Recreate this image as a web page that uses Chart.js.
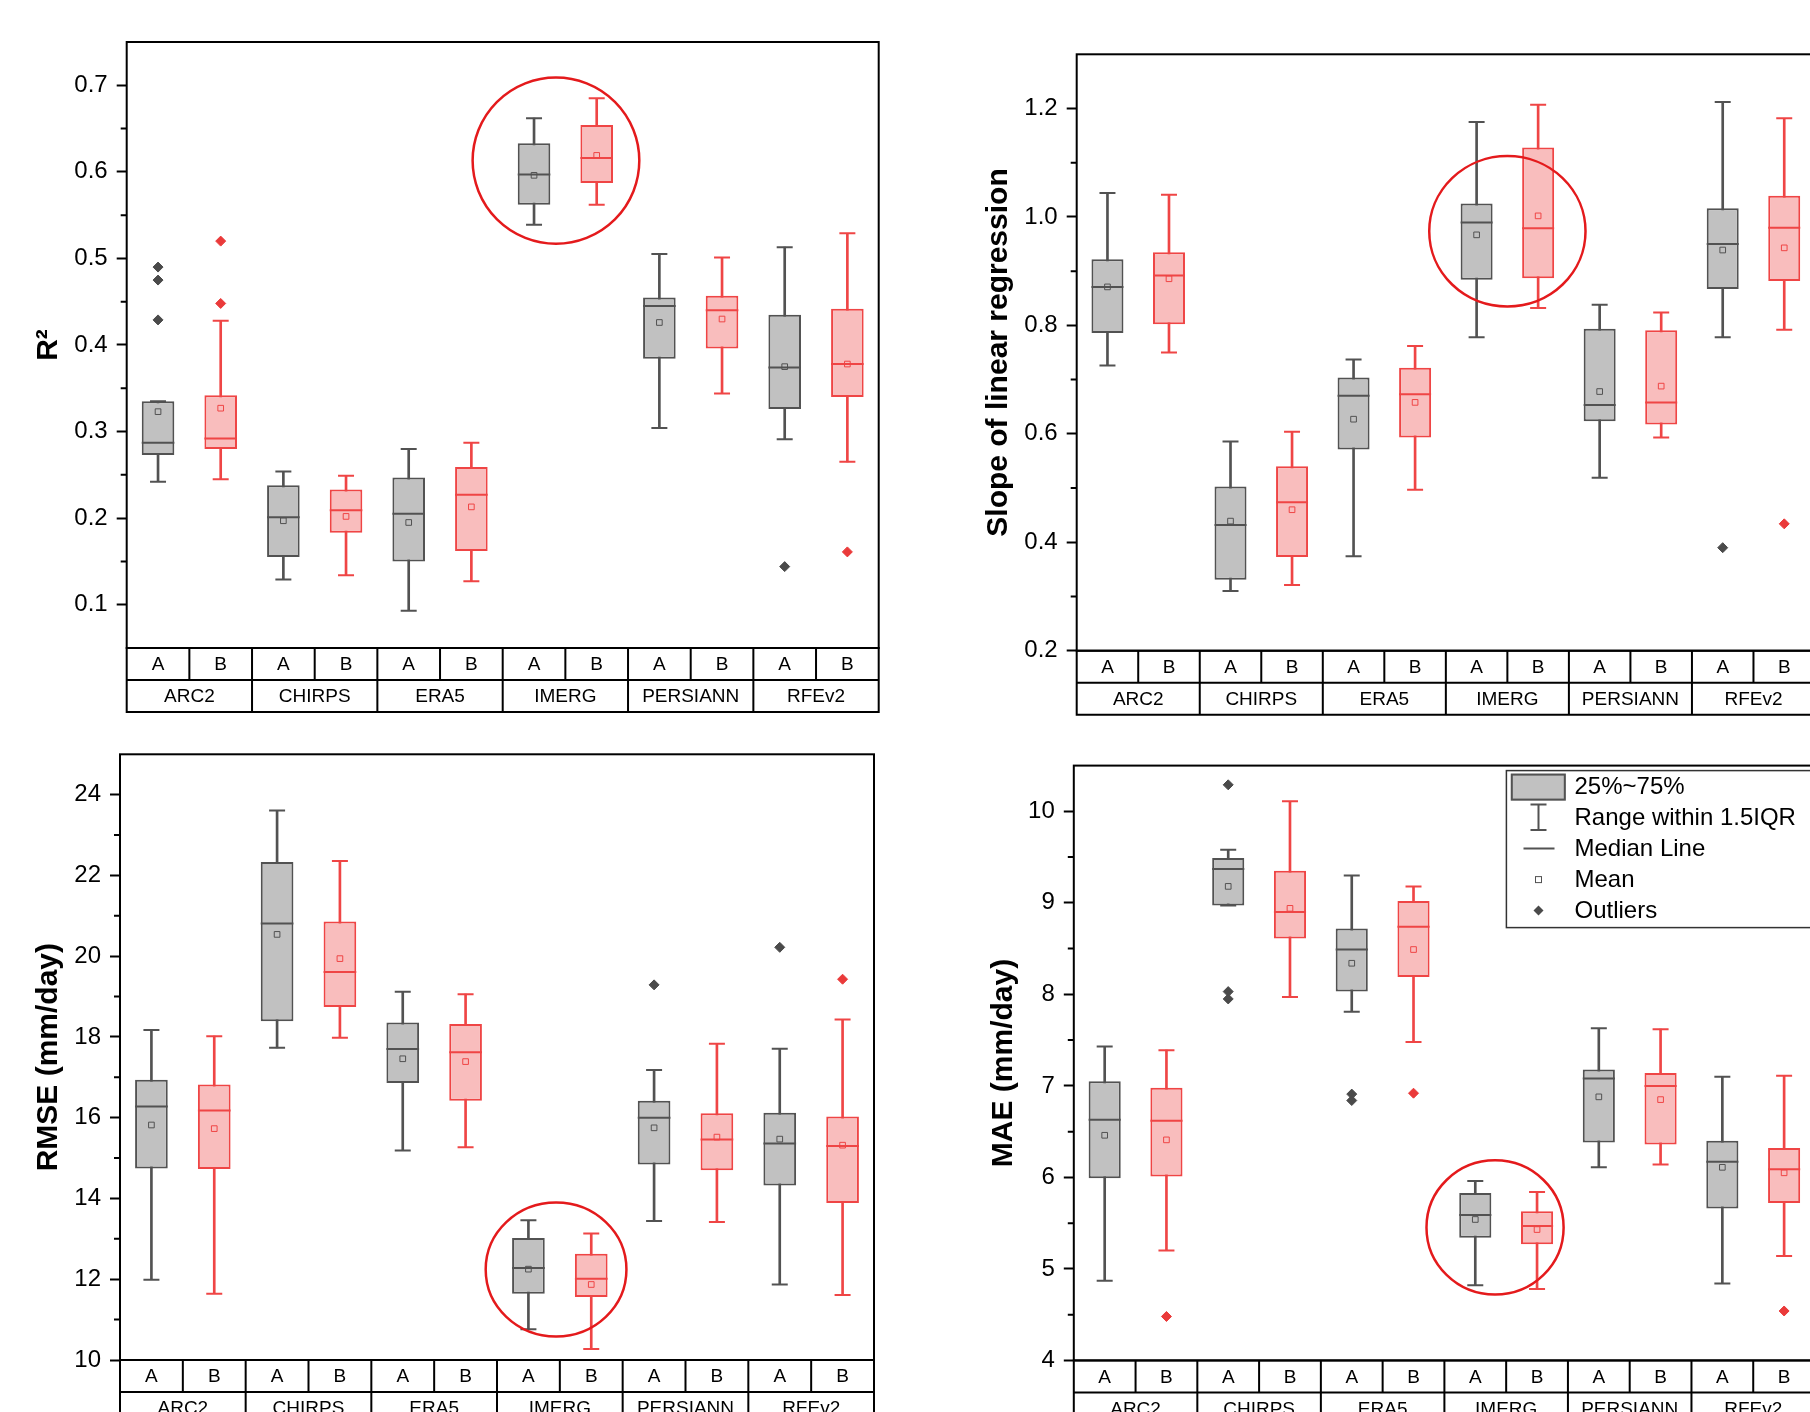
<!DOCTYPE html>
<html>
<head>
<meta charset="utf-8">
<script src="https://cdn.jsdelivr.net/npm/chart.js@4.4.0/dist/chart.umd.min.js"></script>
<style>
  html, body { margin: 0; padding: 0; background: #fff; width: 1810px; height: 1412px; overflow: hidden; position: relative; }
  canvas { position: absolute; }
</style>
</head>
<body>
<canvas id="c1" width="900" height="720" style="left:0;top:0;width:900px;height:720px"></canvas>
<canvas id="c2" width="925" height="720" style="left:900px;top:0;width:925px;height:720px"></canvas>
<canvas id="c3" width="900" height="692" style="left:0;top:720px;width:900px;height:692px"></canvas>
<canvas id="c4" width="925" height="692" style="left:900px;top:720px;width:925px;height:692px"></canvas>
<script>
// 分组和子类
const groups = ['ARC2', 'CHIRPS', 'ERA5', 'IMERG', 'PERSIANN', 'RFEv2'];
const subs = ['A', 'B'];

// R² : [下须, Q1, 中位数, Q3, 上须]
const r2BoxA = [[0.242, 0.273, 0.287, 0.335, 0.335], [0.129, 0.155, 0.201, 0.238, 0.254], [0.093, 0.150, 0.205, 0.247, 0.280],
                [0.539, 0.562, 0.597, 0.633, 0.662], [0.304, 0.384, 0.445, 0.455, 0.505], [0.291, 0.326, 0.374, 0.435, 0.513]];
const r2BoxB = [[0.245, 0.280, 0.292, 0.342, 0.428], [0.134, 0.183, 0.209, 0.233, 0.249], [0.127, 0.162, 0.227, 0.259, 0.287],
                [0.562, 0.587, 0.616, 0.654, 0.685], [0.344, 0.396, 0.440, 0.457, 0.501], [0.265, 0.340, 0.378, 0.442, 0.529]];
const r2MeanA = [0.323, 0.197, 0.195, 0.596, 0.426, 0.375];
const r2MeanB = [0.327, 0.202, 0.213, 0.619, 0.430, 0.378];
const r2OutA = [[0.490, 0.475, 0.429], [], [], [], [], [0.144]];
const r2OutB = [[0.520, 0.448], [], [], [], [], [0.161]];
const r2Ticks = [0.1, 0.2, 0.3, 0.4, 0.5, 0.6, 0.7];

// 线性回归斜率
const slopeBoxA = [[0.726, 0.786, 0.871, 0.922, 1.044], [0.310, 0.331, 0.432, 0.503, 0.586], [0.374, 0.571, 0.670, 0.704, 0.737],
                   [0.778, 0.884, 0.990, 1.025, 1.175], [0.519, 0.623, 0.653, 0.794, 0.838], [0.778, 0.867, 0.950, 1.016, 1.212]];
const slopeBoxB = [[0.750, 0.802, 0.892, 0.935, 1.041], [0.321, 0.373, 0.474, 0.540, 0.604], [0.497, 0.593, 0.673, 0.722, 0.762],
                   [0.832, 0.887, 0.979, 1.128, 1.207], [0.593, 0.617, 0.658, 0.791, 0.824], [0.792, 0.882, 0.980, 1.039, 1.182]];
const slopeMeanA = [0.871, 0.439, 0.627, 0.967, 0.678, 0.939];
const slopeMeanB = [0.886, 0.460, 0.658, 1.002, 0.688, 0.943];
const slopeOutA = [[], [], [], [], [], [0.390]];
const slopeOutB = [[], [], [], [], [], [0.434]];
const slopeTicks = [0.2, 0.4, 0.6, 0.8, 1.0, 1.2];

// RMSE
const rmseBoxA = [[11.99, 14.74, 16.28, 16.94, 18.17], [17.73, 18.39, 20.81, 22.33, 23.61], [15.19, 16.86, 17.70, 18.36, 19.12],
                  [10.76, 11.64, 12.28, 13.02, 13.46], [13.44, 14.84, 16.00, 16.42, 17.18], [11.87, 14.32, 15.36, 16.12, 17.71]];
const rmseBoxB = [[11.64, 14.73, 16.18, 16.82, 18.02], [17.98, 18.74, 19.61, 20.86, 22.36], [15.27, 16.42, 17.62, 18.32, 19.06],
                  [10.27, 11.56, 12.01, 12.63, 13.13], [13.42, 14.70, 15.46, 16.11, 17.83], [11.61, 13.89, 15.30, 16.03, 18.43]];
const rmseMeanA = [15.82, 20.54, 17.46, 12.25, 15.75, 15.47];
const rmseMeanB = [15.73, 19.94, 17.39, 11.87, 15.52, 15.32];
const rmseOutA = [[], [], [], [], [19.29], [20.22]];
const rmseOutB = [[], [], [], [], [], [19.43]];
const rmseTicks = [10, 12, 14, 16, 18, 20, 22, 24];

// MAE
const maeBoxA = [[4.87, 5.99, 6.63, 7.05, 7.43], [8.97, 8.97, 9.37, 9.49, 9.58], [7.81, 8.03, 8.49, 8.72, 9.30],
                 [4.82, 5.34, 5.59, 5.83, 5.96], [6.11, 6.38, 7.08, 7.18, 7.63], [4.84, 5.66, 6.17, 6.40, 7.10]];
const maeBoxB = [[5.20, 6.01, 6.62, 6.98, 7.39], [7.97, 8.61, 8.90, 9.35, 10.11], [7.48, 8.19, 8.74, 9.02, 9.18],
                 [4.78, 5.27, 5.47, 5.63, 5.84], [6.14, 6.36, 7.00, 7.14, 7.62], [5.14, 5.72, 6.09, 6.32, 7.11]];
const maeMeanA = [6.46, 9.18, 8.34, 5.54, 6.88, 6.11];
const maeMeanB = [6.41, 8.94, 8.49, 5.43, 6.85, 6.05];
const maeOutA = [[], [10.29, 8.03, 7.95], [6.91, 6.84], [], [], []];
const maeOutB = [[4.48], [], [6.92], [], [], [4.54]];
const maeTicks = [4, 5, 6, 7, 8, 9, 10];

const FONT = "'Liberation Sans', Arial, sans-serif";
const GRAY = { fill: '#c1c1c1', line: '#525252', dot: '#4a4a4a' };
const RED = { fill: '#f9bdbd', line: '#ef4545', dot: '#ea3a3a' };
const BOX_RATIO = 0.52;

// 箱体半宽（像素），与柱宽一致
function halfBox(chart) {
    const x = chart.scales.x;
    if (!x) return 16;
    return Math.abs(x.getPixelForValue(1) - x.getPixelForValue(0)) * BOX_RATIO / 2;
}

// 生成一组箱线图的数据集
function buildDatasets(boxA, boxB, meanA, meanB, outA, outB) {
    const series = [
        { box: boxA, mean: meanA, out: outA, off: 0, c: GRAY },
        { box: boxB, mean: meanB, out: outB, off: 1, c: RED }
    ];
    const ds = [];
    series.forEach(s => {
        const xs = groups.map((g, i) => i * 2 + s.off);
        // 须线
        ds.push({
            type: 'bar', order: 4, grouped: false, barThickness: 2,
            data: s.box.map((b, i) => ({ x: xs[i], y: [b[0], b[4]] })),
            backgroundColor: s.c.line, borderWidth: 0
        });
        // 须端
        ds.push({
            type: 'scatter', order: 3,
            data: s.box.flatMap((b, i) => [{ x: xs[i], y: b[0] }, { x: xs[i], y: b[4] }]),
            pointStyle: 'line', pointRadius: 8, pointBorderColor: s.c.line, pointBorderWidth: 2
        });
        // 箱体 25%~75%
        ds.push({
            type: 'bar', order: 2, grouped: false,
            categoryPercentage: 1, barPercentage: BOX_RATIO,
            data: s.box.map((b, i) => ({ x: xs[i], y: [b[1], b[3]] })),
            backgroundColor: s.c.fill, borderColor: s.c.line, borderWidth: 2, borderSkipped: false
        });
        // 中位线
        ds.push({
            type: 'scatter', order: 1,
            data: s.box.map((b, i) => ({ x: xs[i], y: b[2] })),
            pointStyle: 'line', pointRadius: ctx => halfBox(ctx.chart),
            pointBorderColor: s.c.line, pointBorderWidth: 2
        });
        // 均值
        ds.push({
            type: 'scatter', order: 0,
            data: s.mean.map((m, i) => ({ x: xs[i], y: m })),
            pointStyle: 'rect', pointRadius: 4, pointBorderWidth: 1,
            pointBorderColor: s.c.line, pointBackgroundColor: 'rgba(0,0,0,0)'
        });
        // 异常值
        ds.push({
            type: 'scatter', order: 0,
            data: s.out.flatMap((arr, i) => arr.map(v => ({ x: xs[i], y: v }))),
            pointStyle: 'rectRot', pointRadius: 5, pointBorderWidth: 1,
            pointBorderColor: s.c.dot, pointBackgroundColor: s.c.dot
        });
    });
    return ds;
}

// 边框、次刻度、分类表格、圆圈和图例
const boxExtras = {
    id: 'boxExtras',
    afterDatasetsDraw(chart, args, opts) {
        const c = opts.circle;
        if (!c) return;
        const ctx = chart.ctx, xs = chart.scales.x, ys = chart.scales.y;
        const cx = xs.getPixelForValue(c.group * 2 + 0.5 + c.shift);
        const cy = ys.getPixelForValue(c.y);
        const ry = Math.abs(ys.getPixelForValue(c.y + c.dy) - cy);
        const rx = Math.abs(xs.getPixelForValue(c.dx) - xs.getPixelForValue(0));
        ctx.save();
        ctx.strokeStyle = '#e41a1c';
        ctx.lineWidth = 2.5;
        ctx.beginPath();
        ctx.ellipse(cx, cy, rx, ry, 0, 0, Math.PI * 2);
        ctx.stroke();
        ctx.restore();
    },
    afterDraw(chart, args, opts) {
        const ctx = chart.ctx, xs = chart.scales.x, ys = chart.scales.y;
        const { left, top, right, bottom } = chart.chartArea;
        const rowH = 32;
        ctx.save();
        ctx.strokeStyle = '#000';
        ctx.lineWidth = 2;
        ctx.strokeRect(left, top, right - left, bottom - top);

        // 次刻度
        ctx.beginPath();
        const m = opts.minor;
        for (let k = Math.ceil(ys.min / m); k * m <= ys.max + 1e-9; k++) {
            const v = k * m;
            if (k % 2 === 0 || v <= ys.min + 1e-9 || v >= ys.max - 1e-9) continue;
            const y = ys.getPixelForValue(v);
            ctx.moveTo(left - 6, y);
            ctx.lineTo(left, y);
        }
        ctx.stroke();

        // 分类表格
        ctx.beginPath();
        for (let r = 0; r <= 2; r++) {
            ctx.moveTo(left - 1, bottom + r * rowH);
            ctx.lineTo(right + 1, bottom + r * rowH);
        }
        for (let i = 0; i <= groups.length * 2; i++) {
            const x = xs.getPixelForValue(i - 0.5);
            ctx.moveTo(x, bottom);
            ctx.lineTo(x, bottom + rowH);
            if (i % 2 === 0) {
                ctx.moveTo(x, bottom + rowH);
                ctx.lineTo(x, bottom + 2 * rowH);
            }
        }
        ctx.stroke();
        ctx.fillStyle = '#000';
        ctx.font = '19px ' + FONT;
        ctx.textAlign = 'center';
        ctx.textBaseline = 'middle';
        for (let i = 0; i < groups.length * 2; i++) {
            ctx.fillText(subs[i % 2], xs.getPixelForValue(i), bottom + rowH / 2 + 1);
        }
        groups.forEach((g, i) => {
            ctx.fillText(g, xs.getPixelForValue(i * 2 + 0.5), bottom + rowH * 1.5 + 1);
        });

        // 图例
        if (opts.legend) {
            const L = left, T = top;
            ctx.lineWidth = 1.5;
            ctx.strokeStyle = '#333';
            ctx.strokeRect(L + 432.6, T + 5, 420, 157);
            ctx.fillStyle = GRAY.fill;
            ctx.fillRect(L + 437, T + 8, 55, 27);
            ctx.lineWidth = 2;
            ctx.strokeStyle = GRAY.line;
            ctx.strokeRect(L + 438, T + 9, 53, 25);
            const sx = L + 464.7;
            ctx.beginPath();
            ctx.moveTo(sx, T + 39); ctx.lineTo(sx, T + 64.5);
            ctx.moveTo(sx - 8, T + 39); ctx.lineTo(sx + 8, T + 39);
            ctx.moveTo(sx - 8, T + 64.5); ctx.lineTo(sx + 8, T + 64.5);
            ctx.moveTo(sx - 15, T + 83); ctx.lineTo(sx + 16, T + 83);
            ctx.stroke();
            ctx.lineWidth = 1;
            ctx.strokeRect(sx - 3, T + 111, 6, 6);
            ctx.fillStyle = GRAY.dot;
            ctx.beginPath();
            ctx.moveTo(sx, T + 140); ctx.lineTo(sx + 5, T + 145);
            ctx.lineTo(sx, T + 150); ctx.lineTo(sx - 5, T + 145);
            ctx.closePath();
            ctx.fill();
            ctx.fillStyle = '#000';
            ctx.font = '24px ' + FONT;
            ctx.textAlign = 'left';
            const labels = ['25%~75%', 'Range within 1.5IQR', 'Median Line', 'Mean', 'Outliers'];
            labels.forEach((t, i) => ctx.fillText(t, L + 500.7, T + 22 + i * 31));
        }
        ctx.restore();
    }
};

function makeChart(id, cfg) {
    new Chart(document.getElementById(id), {
        type: 'bar',
        data: { datasets: buildDatasets(...cfg.data) },
        options: {
            responsive: false,
            animation: false,
            events: [],
            layout: { padding: cfg.padding },
            scales: {
                x: {
                    type: 'linear', display: false, offset: false,
                    min: -0.5, max: groups.length * 2 - 0.5,
                    afterBuildTicks: s => { s.ticks = groups.flatMap((g, i) => [{ value: i * 2 }, { value: i * 2 + 1 }]); }
                },
                y: {
                    type: 'linear', min: cfg.min, max: cfg.max,
                    afterBuildTicks: s => { s.ticks = cfg.ticks.map(v => ({ value: v })); },
                    afterFit: s => { s.width = cfg.axisW; },
                    border: { display: false },
                    grid: { drawOnChartArea: false, drawTicks: true, tickLength: 10, tickWidth: 2, tickColor: '#000' },
                    ticks: {
                        color: '#000', padding: 9,
                        font: { family: FONT, size: 24 },
                        callback: v => Number(v).toFixed(cfg.dec)
                    },
                    title: {
                        display: true, text: cfg.title, color: '#000',
                        font: { family: FONT, size: 30, weight: 'bold' },
                        padding: { top: cfg.titlePad, bottom: 0 }
                    }
                }
            },
            plugins: {
                legend: { display: false },
                tooltip: { enabled: false },
                boxExtras: { minor: cfg.minor, circle: cfg.circle, legend: !!cfg.legend }
            }
        },
        plugins: [boxExtras]
    });
}

makeChart('c1', {
    data: [r2BoxA, r2BoxB, r2MeanA, r2MeanB, r2OutA, r2OutB],
    padding: { left: 0, top: 42, right: 21.3, bottom: 72 },
    axisW: 126.7, min: 0.05, max: 0.75, ticks: r2Ticks, dec: 1, minor: 0.05,
    title: 'R²', titlePad: 30.5,
    circle: { group: 3, shift: -0.15, y: 0.613, dy: 0.096, dx: 1.33 }
});
makeChart('c2', {
    data: [slopeBoxA, slopeBoxB, slopeMeanA, slopeMeanB, slopeOutA, slopeOutB],
    padding: { left: 0, top: 54.3, right: 4.3, bottom: 69.3 },
    axisW: 176.7, min: 0.2, max: 1.3, ticks: slopeTicks, dec: 1, minor: 0.1,
    title: 'Slope of linear regression', titlePad: 81,
    circle: { group: 3, shift: 0, y: 0.9736, dy: 0.1388, dx: 1.27 }
});
makeChart('c3', {
    data: [rmseBoxA, rmseBoxB, rmseMeanA, rmseMeanB, rmseOutA, rmseOutB],
    padding: { left: 0, top: 34.3, right: 26, bottom: 52 },
    axisW: 120, min: 10, max: 25, ticks: rmseTicks, dec: 0, minor: 1,
    title: 'RMSE (mm/day)', titlePad: 30.5,
    circle: { group: 3, shift: -0.06, y: 12.241, dy: 1.657, dx: 1.12 }
});
makeChart('c4', {
    data: [maeBoxA, maeBoxB, maeMeanA, maeMeanB, maeOutA, maeOutB],
    padding: { left: 0, top: 45.6, right: 7.2, bottom: 51.6 },
    axisW: 173.8, min: 4, max: 10.5, ticks: maeTicks, dec: 0, minor: 0.5,
    title: 'MAE (mm/day)', titlePad: 86,
    circle: { group: 3, shift: -0.18, y: 5.453, dy: 0.733, dx: 1.11 },
    legend: true
});
</script>
</body>
</html>
